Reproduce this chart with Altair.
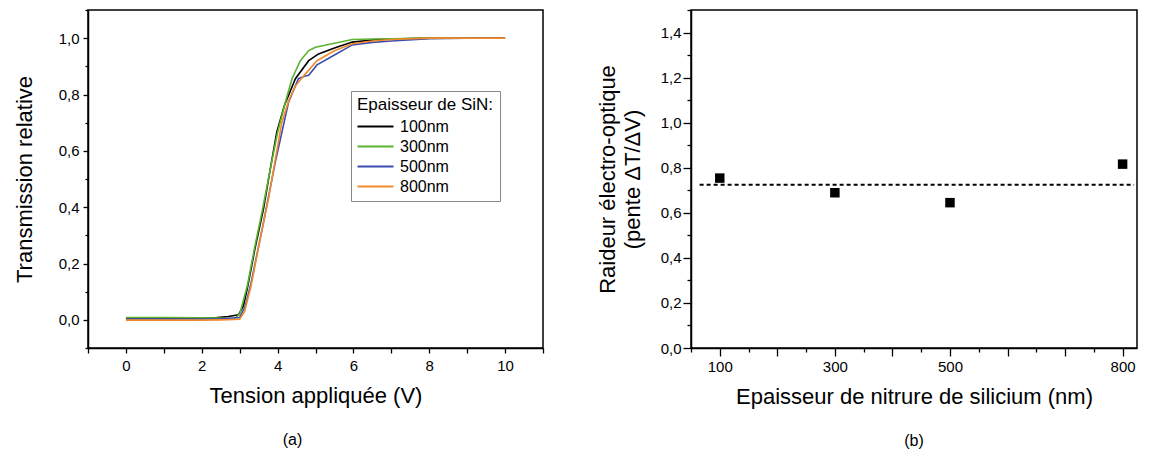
import altair as alt
import pandas as pd

FONT = "Liberation Sans"

# ---------- (a) Transmission relative vs tension ----------
series_labels = ["100nm", "300nm", "500nm", "800nm"]
series_colors = ["#000000", "#5AB42D", "#3A4DB0", "#F28A2B"]

v_100 = [0, 1, 2, 2.4, 2.7, 2.97, 3.1, 3.2, 3.4, 3.63, 3.8, 3.98, 4.18, 4.47, 4.82, 5.08, 5.5, 5.97, 6.5, 7, 8, 9, 10]
t_100 = [0.005, 0.005, 0.006, 0.008, 0.012, 0.018, 0.05, 0.11, 0.25, 0.395, 0.53, 0.667, 0.761, 0.856, 0.92, 0.944, 0.965, 0.986, 0.993, 0.997, 1.0, 1.0, 1.0]

v_300 = [0, 1, 2, 2.5, 2.85, 3.0, 3.2, 3.4, 3.6, 3.8, 4.0, 4.2, 4.38, 4.6, 4.82, 5.0, 5.5, 5.97, 6.5, 7, 8, 9, 10]
t_300 = [0.008, 0.008, 0.007, 0.006, 0.002, 0.02, 0.12, 0.26, 0.39, 0.53, 0.665, 0.77, 0.856, 0.92, 0.956, 0.968, 0.982, 0.995, 0.997, 0.998, 1.0, 1.0, 1.0]

v_500 = [0, 1, 2, 2.5, 3.0, 3.15, 3.3, 3.63, 3.94, 4.29, 4.55, 4.73, 4.82, 5.04, 5.5, 5.97, 6.5, 7, 8, 9, 10]
t_500 = [0.003, 0.003, 0.003, 0.004, 0.008, 0.05, 0.13, 0.347, 0.56, 0.773, 0.856, 0.866, 0.868, 0.905, 0.94, 0.976, 0.985, 0.99, 0.998, 1.0, 1.0]

v_800 = [0, 1, 2, 2.5, 3.0, 3.13, 3.3, 3.5, 3.76, 4.11, 4.3, 4.47, 4.65, 5.04, 5.5, 5.97, 6.5, 7, 8, 9, 10]
t_800 = [-0.001, -0.001, -0.001, 0.0, 0.002, 0.03, 0.12, 0.26, 0.43, 0.70, 0.78, 0.83, 0.86, 0.92, 0.955, 0.98, 0.99, 0.995, 1.0, 1.0, 1.0]

left_x_ticks = list(range(-1, 12))
left_y_ticks = [round(-0.1 + 0.1 * i, 1) for i in range(13)]

# ---------- (b) Raideur vs épaisseur ----------
thickness_nm = [100, 300, 500, 800]
steepness = [0.754, 0.689, 0.645, 0.816]
mean_line_x = [65, 820]
mean_line_y = [0.724, 0.724]

right_x_ticks = list(range(50, 826, 50))
right_x_labels = [100, 300, 500, 800]
right_y_ticks = [round(0.1 * i, 1) for i in range(16)]

# ---------- tables ----------
rows = []
for lab, xs, ys in zip(series_labels, [v_100, v_300, v_500, v_800], [t_100, t_300, t_500, t_800]):
    for i, (x, y) in enumerate(zip(xs, ys)):
        rows.append({"serie": lab, "V": x, "T": y, "ord": i})
df_a = pd.DataFrame(rows)

df_b = pd.DataFrame({"ep": thickness_nm, "pente": steepness})
df_mean = pd.DataFrame({"ep": mean_line_x, "pente": mean_line_y})

comma_fmt = "replace(format(datum.value, '.1f'), '.', ',')"
LBL = 15

lx_test = "datum.value >= 0 && datum.value <= 10 && datum.value % 2 == 0"
ly_test = "datum.value > -0.05 && datum.value < 1.05 && abs(datum.value*5 - round(datum.value*5)) < 0.001"
major_y = "abs(datum.value*5 - round(datum.value*5)) < 0.001"
rx_test = "indexof(" + str(right_x_labels) + ", datum.value) >= 0"
ry_test = "datum.value < 1.45 && abs(datum.value*5 - round(datum.value*5)) < 0.001"


def cond(test, a, b):
    return {"condition": {"test": test, "value": a}, "value": b}


left = alt.Chart(df_a).mark_line(strokeWidth=1.6, clip=True).encode(
    x=alt.X(
        "V:Q",
        scale=alt.Scale(domain=[-1, 11], nice=False, zero=False),
        axis=alt.Axis(
            title="Tension appliquée (V)",
            values=left_x_ticks,
            labelExpr=lx_test + " ? format(datum.value, 'd') : ''",
            labelFontSize=cond(lx_test, LBL, 0),
            tickSize=5,
            labelPadding=5,
            titlePadding=12,
            labelFlush=False,
            labelOverlap=False,
            grid=False,
        ),
    ),
    y=alt.Y(
        "T:Q",
        scale=alt.Scale(domain=[-0.1, 1.1], nice=False, zero=False),
        axis=alt.Axis(
            title="Transmission relative",
            values=left_y_ticks,
            labelExpr=ly_test + " ? " + comma_fmt + " : ''",
            labelFontSize=cond(ly_test, LBL, 0),
            tickSize=cond(major_y, 5, 3),
            labelPadding=4,
            titlePadding=22,
            labelOverlap=False,
            grid=False,
        ),
    ),
    color=alt.Color(
        "serie:N",
        scale=alt.Scale(domain=series_labels, range=series_colors),
        legend=alt.Legend(
            title="Epaisseur de SiN:",
            orient="none",
            legendX=263,
            legendY=81,
            symbolType="M-2.4,0H2.4",
            symbolSize=225,
            symbolStrokeWidth=2,
            symbolOffset=10,
            labelOffset=16,
            rowPadding=3,
            titlePadding=4,
            strokeColor="#888888",
            fillColor="white",
            padding=6,
        ),
    ),
    order="ord:Q",
).properties(
    width=455,
    height=338,
    title=alt.TitleParams("(a)", orient="bottom", anchor="middle", dx=-23, offset=26,
                          fontSize=16, font=FONT, fontWeight="normal", color="black"),
)

x_b = alt.X(
    "ep:Q",
    scale=alt.Scale(domain=[50, 825], nice=False, zero=False),
    axis=alt.Axis(
        title="Epaisseur de nitrure de silicium (nm)",
        values=right_x_ticks,
        labelExpr=rx_test + " ? format(datum.value, 'd') : ''",
        labelFontSize=cond(rx_test, LBL, 0),
        tickSize=cond("datum.value % 100 == 0", 8, 4),
        labelPadding=3,
        titlePadding=12,
        labelFlush=False,
        labelOverlap=False,
        grid=False,
    ),
)
y_b = alt.Y(
    "pente:Q",
    scale=alt.Scale(domain=[0, 1.5], nice=False, zero=False),
    axis=alt.Axis(
        title=["Raideur électro-optique", "(pente ΔT/ΔV)"],
        titleLineHeight=25,
        values=right_y_ticks,
        labelExpr=ry_test + " ? " + comma_fmt + " : ''",
        labelFontSize=cond(ry_test, LBL, 0),
        tickSize=cond(major_y, 8, 4),
        labelPadding=2,
        titlePadding=16,
        labelOverlap=False,
        grid=False,
    ),
)

pts = alt.Chart(df_b).mark_square(size=90, color="black", opacity=1).encode(x=x_b, y=y_b)
mean_rule = alt.Chart(df_mean).mark_line(color="black", strokeWidth=2, strokeDash=[4, 3]).encode(x=x_b, y=y_b)

right = alt.layer(mean_rule, pts).properties(
    width=446,
    height=338,
    title=alt.TitleParams("(b)", orient="bottom", anchor="middle", offset=26,
                          fontSize=16, font=FONT, fontWeight="normal", color="black"),
)

chart = alt.hconcat(left, right, spacing=50).properties(
    padding={"left": 4, "top": 0, "right": 0, "bottom": 0}
).configure_view(
    stroke="black", strokeWidth=1.5
).configure_axis(
    domainColor="black", domainWidth=1.5, tickColor="black", tickWidth=1.3,
    labelFont=FONT, titleFont=FONT, labelColor="black", titleColor="black",
    titleFontSize=22, titleFontWeight="normal",
).configure_legend(
    labelFont=FONT, titleFont=FONT, labelFontSize=16, titleFontSize=17,
    titleFontWeight="normal", labelColor="black", titleColor="black",
).configure_title(
    font=FONT, fontWeight="normal", color="black"
)

chart.save("out.html", embed_options={"renderer": "svg", "actions": False})
